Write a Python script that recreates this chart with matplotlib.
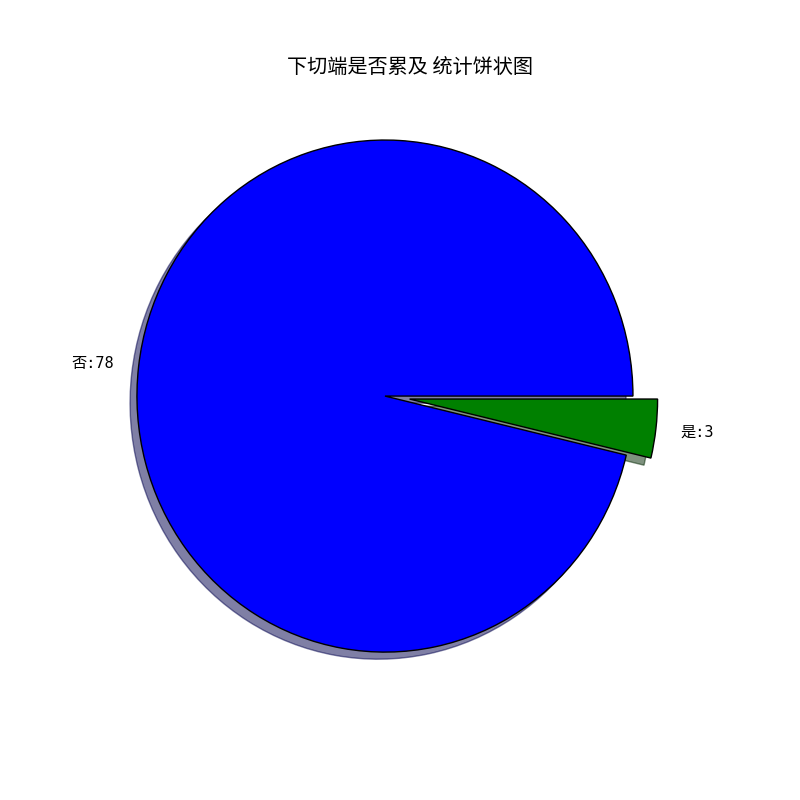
import matplotlib
matplotlib.use("Agg")
import matplotlib.pyplot as plt

plt.rcParams['font.family'] = ['DejaVu Sans Mono', 'Noto Sans CJK SC']
plt.rcParams['axes.unicode_minus'] = False

# 数据
labels = ["否", "是"]
counts = [78, 3]
colors = ["blue", "green"]
explode = [0, 0.1]
title = "下切端是否累及 统计饼状图"

fig, ax = plt.subplots(figsize=(8, 8), dpi=100)
ax.pie(counts,
       labels=[f"{l}:{c}" for l, c in zip(labels, counts)],
       colors=colors,
       explode=explode,
       shadow=True,
       wedgeprops={"edgecolor": "black", "linewidth": 1},
       textprops={"fontsize": 11})
# 原图饼不是正圆, 坐标范围也不对称
ax.set_aspect('auto')
ax.set_xlim(-1.149, 1.351)
ax.set_ylim(-1.234, 1.172)
ax.set_title(title, fontsize=14.5, pad=16.5, family=['Noto Sans CJK SC', 'DejaVu Sans'])
fig.savefig("out.png")
